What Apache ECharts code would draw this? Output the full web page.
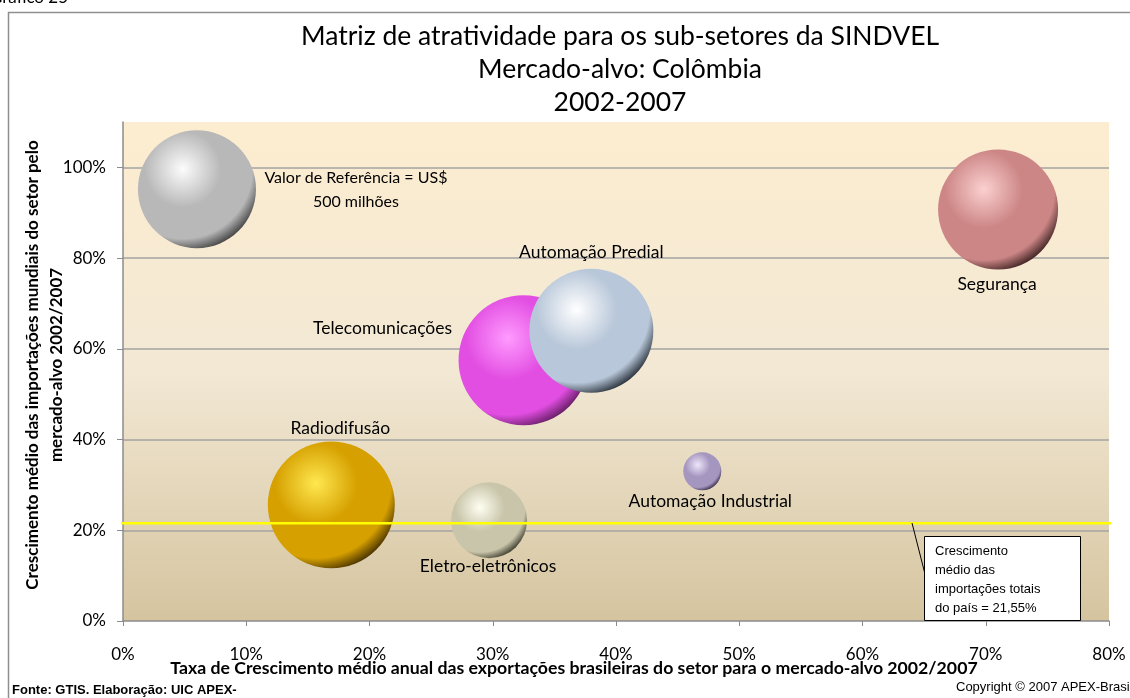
<!DOCTYPE html>
<html>
<head>
<meta charset="utf-8">
<script src="https://cdn.jsdelivr.net/npm/echarts@6/dist/echarts.min.js"></script>
<style>
html,body{margin:0;padding:0;background:#fff;}
#c{width:1130px;height:698px;}
</style>
</head>
<body>
<div id="c"></div>
<script>
// ---- data ----
var sectorNames = ['Valor de Referência = US$\n500 milhões', 'Segurança', 'Telecomunicações', 'Automação Predial', 'Radiodifusão', 'Eletro-eletrônicos', 'Automação Industrial'];
var exportGrowth = [6.0, 71.0, 32.5, 38.0, 16.9, 29.7, 47.0];   // x, %
var importGrowth = [95.2, 90.7, 57.5, 64.0, 25.6, 22.2, 33.0];  // y, %
var importValue = [500, 517, 607, 552, 579, 207, 52];           // bubble value, US$ milhões
var countryAvgImportGrowth = 21.55;
var xTicks = [0, 10, 20, 30, 40, 50, 60, 70, 80];
var yTicks = [0, 20, 40, 60, 80, 100];

// ---- styles ----
var sphereColors = [
  ['#FCFCFC', '#B8B8B8', '#3A3A3A'],
  ['#FBD0D0', '#CD8686', '#351C1C'],
  ['#FF9AFF', '#E24EE2', '#5E1A5E'],
  ['#FFFFFF', '#B8C7D9', '#1E262E'],
  ['#FFE850', '#D6A000', '#3E2A00'],
  ['#FFFFF2', '#C9C5AA', '#343426'],
  ['#EEE6FA', '#A596C0', '#322842']
];
var labelOffsets = [[159, 1], [-1, 75], [-141, -32], [0, -78], [9, -77], [-1, 46], [8, 30]];
var labelSizes = [16, 17.5, 17.5, 17.5, 17.5, 17.5, 17.5];

function sphere(c) {
  return {
    type: 'radial', x: 0.38, y: 0.33, r: 0.72,
    colorStops: [
      {offset: 0, color: c[0]},
      {offset: 0.45, color: c[1]},
      {offset: 0.82, color: c[1]},
      {offset: 1, color: c[2]}
    ]
  };
}

var bubbleData = sectorNames.map(function (n, i) {
  return {
    name: n,
    value: [exportGrowth[i], importGrowth[i], importValue[i]],
    itemStyle: {color: sphere(sphereColors[i]), opacity: 1},
    label: {offset: labelOffsets[i], fontSize: labelSizes[i]}
  };
});

var FONT = 'Lato';
var chart = echarts.init(document.getElementById('c'), null, {renderer: 'canvas'});
chart.setOption({
  animation: false,
  backgroundColor: '#ffffff',
  title: {
    text: 'Matriz de atratividade para os sub-setores da SINDVEL\nMercado-alvo: Colômbia\n2002-2007',
    left: 615, top: 15, textAlign: 'center',
    textStyle: {fontFamily: FONT, fontSize: 26.5, fontWeight: 'normal', color: '#000', lineHeight: 33}
  },
  grid: {
    left: 123, right: 21, top: 122, bottom: 77,
    show: true, borderWidth: 0,
    backgroundColor: {
      type: 'linear', x: 0, y: 0, x2: 0, y2: 1,
      colorStops: [
        {offset: 0, color: '#FDEDD0'},
        {offset: 0.5, color: '#F2E8D4'},
        {offset: 1, color: '#D5C49F'}
      ]
    }
  },
  xAxis: {
    type: 'value', min: xTicks[0], max: xTicks[xTicks.length - 1], interval: 10,
    axisLine: {show: true, onZero: false, lineStyle: {color: '#8C8C8C', width: 1.5}},
    axisTick: {show: true, length: 5, lineStyle: {color: '#8C8C8C'}},
    splitLine: {show: false},
    axisLabel: {formatter: '{value}%', fontFamily: FONT, fontSize: 17, color: '#000', margin: 25}
  },
  yAxis: {
    type: 'value', min: yTicks[0], max: 110, interval: 20,
    axisLine: {show: true, onZero: false, lineStyle: {color: '#8C8C8C', width: 1.5}},
    axisTick: {show: true, length: 6, lineStyle: {color: '#8C8C8C'}},
    splitLine: {show: true, showMaxLine: false, showMinLine: false, lineStyle: {color: '#A3A3A3', width: 1.5}},
    axisLabel: {
      fontFamily: FONT, fontSize: 17, color: '#000', margin: 17, showMaxLabel: false,
      formatter: function (v) { return yTicks.indexOf(v) >= 0 ? v + '%' : ''; }
    }
  },
  series: [
    {
      type: 'scatter',
      data: bubbleData,
      symbolSize: function (val) { return 118 * Math.sqrt(val[2] / 500); },
      label: {
        show: true, position: 'inside',
        formatter: '{b}',
        fontFamily: FONT, fontSize: 17.5, color: '#000', lineHeight: 24, align: 'center'
      },
      emphasis: {disabled: true},
      z: 3
    },
    {
      type: 'line',
      data: [[-0.9, countryAvgImportGrowth], [82, countryAvgImportGrowth]],
      symbol: 'none', clip: false,
      lineStyle: {color: '#FFFF00', width: 2.5},
      z: 4
    }
  ],
  graphic: [
    {type: 'rect', shape: {x: 8.5, y: 12.5, width: 1200, height: 800}, style: {fill: 'none', stroke: '#8F8F8F', lineWidth: 1.5}, z: -1},
    {type: 'text', left: -10, top: -11, style: {text: 'Gráfico 25', font: '17px ' + FONT, fill: '#000'}},
    {type: 'text', left: 12, top: 684, style: {text: 'Fonte: GTIS. Elaboração: UIC APEX-', font: 'bold 13px "Liberation Sans", Arial', fill: '#000'}},
    {type: 'text', left: 956, top: 681, style: {text: 'Copyright © 2007 APEX-Brasil', font: '13px "Liberation Sans", Arial', fill: '#000'}},
    {type: 'text', x: 574, y: 668, style: {text: 'Taxa de Crescimento médio anual das exportações brasileiras do setor para o mercado-alvo 2002/2007', font: 'bold 17.7px ' + FONT, fill: '#000', align: 'center', verticalAlign: 'middle'}},
    {type: 'text', x: 45, y: 365, rotation: Math.PI / 2, style: {text: 'Crescimento médio das importações mundiais do setor pelo\nmercado-alvo 2002/2007', font: 'bold 17px ' + FONT, fill: '#000', align: 'center', verticalAlign: 'middle', lineHeight: 24}},
    {type: 'line', shape: {x1: 912, y1: 523, x2: 925, y2: 574}, style: {stroke: '#000', lineWidth: 1}, z: 10},
    {type: 'rect', shape: {x: 924.5, y: 536.5, width: 156, height: 84}, style: {fill: '#fff', stroke: '#000', lineWidth: 1}, z: 10},
    {type: 'text', x: 935, y: 542, style: {text: 'Crescimento\nmédio das\nimportações totais\ndo país = 21,55%', font: '13px "Liberation Sans", Arial', fill: '#000', lineHeight: 19}, z: 11}
  ]
});
</script>
</body>
</html>
